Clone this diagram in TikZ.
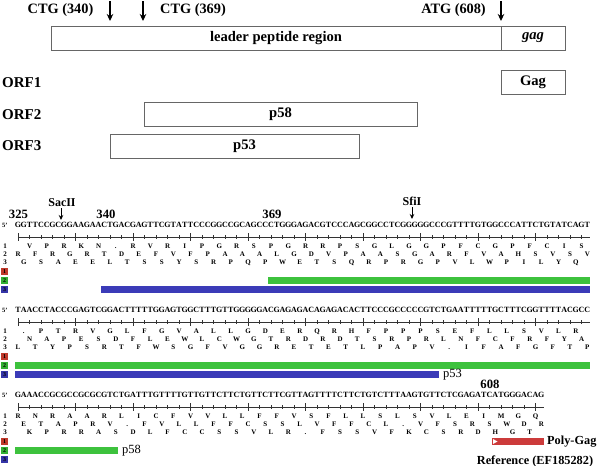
\documentclass[tikz,border=0pt]{standalone}
\usepackage{fontspec}
\setmainfont{Liberation Serif}
\usetikzlibrary{arrows.meta}
\definecolor{barG}{HTML}{3DC23D}
\definecolor{barB}{HTML}{3B3BB8}
\definecolor{barR}{HTML}{CC3B3B}
\definecolor{sqR}{HTML}{C0392B}
\definecolor{sqG}{HTML}{33B033}
\definecolor{sqB}{HTML}{3535A8}
\definecolor{boxline}{HTML}{666666}
\newlength\mycellw
\makeatletter
\def\mycells#1#2{\setlength\mycellw{#1}\mycells@i#2\relax}
\def\mycells@i#1{\ifx\relax#1\else\makebox[\mycellw][c]{#1}\expandafter\mycells@i\fi}
\makeatother
\tikzset{
  toplbl/.style={font=\fontsize{14.3}{15}\selectfont\bfseries, inner sep=0},
  orflbl/.style={font=\fontsize{15}{16}\selectfont\bfseries, inner sep=0, anchor=west},
  orfbox/.style={draw=boxline, line width=0.8pt, inner sep=0, minimum height=24pt,
                 font=\fontsize{14.6}{15}\selectfont\bfseries},
  downarrow/.style={line width=1.4pt, -{Stealth[length=7pt,width=6.5pt]}},
  smallarrow/.style={line width=1pt, -{Stealth[length=5pt,width=4.5pt]}},
  numlbl/.style={font=\fontsize{12.7}{13}\selectfont\bfseries, inner sep=0},
  enzlbl/.style={font=\fontsize{12}{13}\selectfont\bfseries, inner sep=0},
  seqtxt/.style={font=\fontsize{8}{8}\selectfont\bfseries, inner sep=0, anchor=base west},
  aatxt/.style={font=\fontsize{7}{7}\selectfont\bfseries, inner sep=0, anchor=base west},
  rowlbl/.style={font=\fontsize{7}{7}\selectfont\bfseries, inner sep=0},
  fivep/.style={font=\fontsize{6.5}{6.5}\selectfont\bfseries, inner sep=0, anchor=west},
  sqbox/.style={minimum width=7pt, minimum height=7pt, inner sep=0,
                font=\fontsize{6}{6}\selectfont\bfseries, text=black},
  rul/.style={line width=0.5pt, black!80},
  barlbl/.style={font=\fontsize{12.5}{13}\selectfont, inner sep=0, anchor=west},
  reflbl/.style={font=\fontsize{12.3}{13}\selectfont\bfseries, inner sep=0}
}
\begin{document}
\begin{tikzpicture}[x=1pt,y=-1pt]
\useasboundingbox (0,0) rectangle (600,466);
\fill[white] (0,0) rectangle (600,466);

% ---------- top schematic ----------
\node[toplbl] (c340) at (60.5,10) {CTG (340)};
\node[toplbl] (c369) at (193,10) {CTG (369)};
\node[toplbl] (a608) at (453.5,10) {ATG (608)};
\coordinate (t340s) at (110,1);   \coordinate (t340e) at (110,21);
\coordinate (t369s) at (143,1);   \coordinate (t369e) at (143,21);
\coordinate (t608s) at (501,1);   \coordinate (t608e) at (501,21);
\draw[downarrow] (t340s) -- (t340e);
\draw[downarrow] (t369s) -- (t369e);
\draw[downarrow] (t608s) -- (t608e);

\node[orfbox, minimum width=450pt] (lead) at (276,38) {leader peptide region};
\node[orfbox, minimum width=64pt] (gagseg) at (533,38) {\textit{gag}};

\node[orflbl] (orf1) at (2,83) {ORF1};
\node[orflbl] (orf2) at (2,115) {ORF2};
\node[orflbl] (orf3) at (2,146) {ORF3};
\node[orfbox, minimum width=64pt] (gagbox) at (533,82) {Gag};
\node[orfbox, minimum width=273pt] (p58box) at (280.5,114) {p58};
\node[orfbox, minimum width=249pt] (p53box) at (234.5,146) {};
\node[toplbl, font=\fontsize{14.6}{15}\selectfont\bfseries] (p53txt) at (244.5,146) {p53};

% ---------- sequence blocks: furniture ----------
\foreach \b/\ys/\nn in {1/225/100, 2/310/100, 3/395/92}{
  \node[fivep] (fp\b) at (2,\ys) {5'};
  \draw[rul] (17.875,\ys+12) -- ({15+5.75*\nn},\ys+12);
  \foreach \i in {1,3,...,\nn}{
    \draw[rul] ({15+5.75*(\i-0.5)},\ys+10) -- ({15+5.75*(\i-0.5)},\ys+14);
  }
  \foreach \i in {1,11,...,\nn}{
    \draw[rul] ({15+5.75*(\i-0.5)},\ys+8) -- ({15+5.75*(\i-0.5)},\ys+16);
  }
  \node[rowlbl] (rl1\b) at (5,\ys+21.5) {1};
  \node[rowlbl] (rl2\b) at (5,\ys+29.5) {2};
  \node[rowlbl] (rl3\b) at (5,\ys+37.5) {3};
  \node[sqbox, fill=sqR] (sq1\b) at (4.5,\ys+46.5) {1};
  \node[sqbox, fill=sqG] (sq2\b) at (4.5,\ys+55.5) {2};
  \node[sqbox, fill=sqB] (sq3\b) at (4.5,\ys+64.5) {3};
}

% ---------- block 1 ----------
\node[numlbl] (n325) at (18.5,214) {325};
\node[numlbl] (n340) at (106,214) {340};
\node[numlbl] (n369) at (272,214) {369};
\node[enzlbl] (sac) at (62,203) {SacII};
\node[enzlbl] (sfi) at (412,201) {SfiI};
\coordinate (sacs) at (61,208); \coordinate (sace) at (61,220);
\coordinate (sfis) at (412,207); \coordinate (sfie) at (412,219);
\draw[smallarrow] (sacs) -- (sace);
\draw[smallarrow] (sfis) -- (sfie);
\node[seqtxt] (s1) at (15,227.7) {\mycells{5.75pt}{GGTTCCGCGGAAGAACTGACGAGTTCGTATTCCCGGCCGCAGCCCTGGGAGACGTCCCAGCGGCCTCGGGGGCCCGTTTTGTGGCCCATTCTGTATCAGT}};
\node[aatxt] (f11) at (20.75,248.8) {\mycells{17.25pt}{VPRKN.RVRIPGRSPGRRPSGLGGPFCGPFCIS}};
\node[aatxt] (f12) at (9.25,256.8) {\mycells{17.25pt}{RFRGRTDEFVFPAAALGDVPAASGARFVAHSVSV}};
\node[aatxt] (f13) at (15,264.8) {\mycells{17.25pt}{GSAEELTSSYSRPQPWETSQRPRGPVLWPILYQ}};
\fill[barG] (268,277) rectangle (590,284);
\fill[barB] (101.25,286) rectangle (590,293);

% ---------- block 2 ----------
\node[seqtxt] (s2) at (15,312.7) {\mycells{5.75pt}{TAACCTACCCGAGTCGGACTTTTTGGAGTGGCTTTGTTGGGGGACGAGAGACAGAGACACTTCCCGCCCCCGTCTGAATTTTTGCTTTCGGTTTTACGCC}};
\node[aatxt] (f21) at (15,333.8) {\mycells{17.25pt}{.PTRVGLFGVALLGDERQRHFPPPSEFLLSVLR}};
\node[aatxt] (f22) at (20.75,341.8) {\mycells{17.25pt}{NAPESDFLEWLCWGTRDRDTSRPRLNFCFRFYA}};
\node[aatxt] (f23) at (9.25,349.8) {\mycells{17.25pt}{LTYPSRTFWSGFVGGRETETLPAPV.IFAFGFTP}};
\fill[barG] (15,362) rectangle (590,369);
\fill[barB] (15,371) rectangle (439.5,378);
\draw[white, line width=0.6pt] (439.5,371) -- (439.5,378);
\node[barlbl] (p53lbl) at (443,375) {p53};

% ---------- block 3 ----------
\node[numlbl] (n608) at (490,384) {608};
\node[seqtxt] (s3) at (15,397.7) {\mycells{5.75pt}{GAAACCGCGCCGCGCGTCTGATTTGTTTTGTTGTTCTTCTGTTCTTCGTTAGTTTTCTTCTGTCTTTAAGTGTTCTCGAGATCATGGGACAG}};
\node[aatxt] (f31) at (9.25,418.8) {\mycells{17.25pt}{RNRAARLICFVVLLFFVSFLLSLSVLEIMGQ}};
\node[aatxt] (f32) at (15,426.8) {\mycells{17.25pt}{ETAPRV.FVLLFFCSSLVFFCL.VFSRSWDR}};
\node[aatxt] (f33) at (20.75,434.8) {\mycells{17.25pt}{KPRRASDLFCCSSVLR.FSSVFKCSRDHGT}};
\fill[barG] (15,447) rectangle (118,454);
\draw[white, line width=0.6pt] (118,447) -- (118,454);
\node[barlbl] (p58lbl) at (122,451) {p58};
\fill[barR] (492,438) rectangle (544,445);
\fill[white] (493,439) -- (497.5,441.5) -- (493,444) -- cycle;
\node[reflbl, anchor=west] (polygag) at (547,441.5) {Poly-Gag};
\node[reflbl] (ref) at (535,461) {Reference (EF185282)};
\end{tikzpicture}
\end{document}
